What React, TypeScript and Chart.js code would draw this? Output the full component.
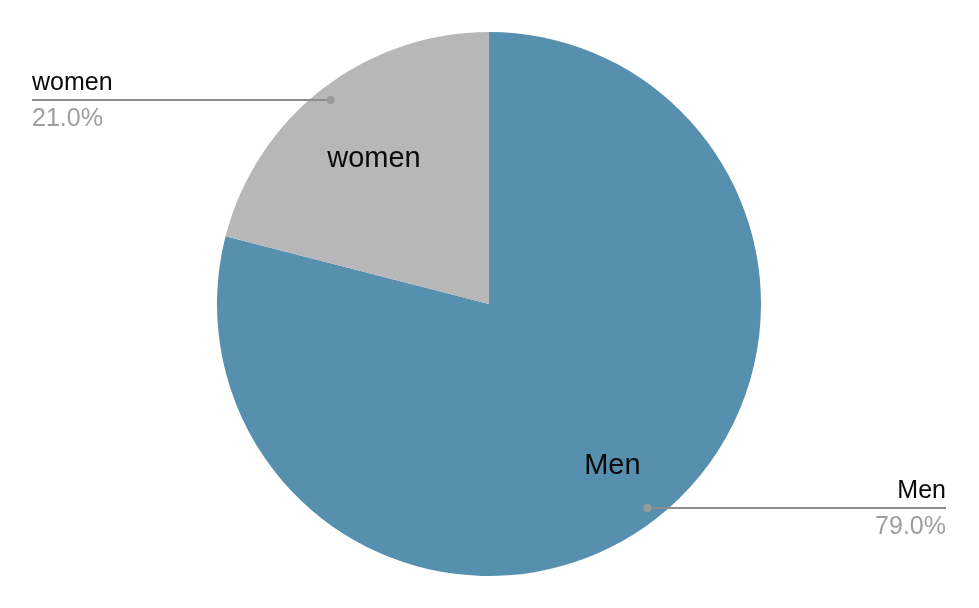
import React, { useEffect, useRef } from "react";
import { Chart, registerables } from "chart.js";

Chart.register(...registerables);

const categories = ["Men", "women"];
const values = [79, 21];
const sliceColors = ["#5790AE", "#B7B7B7"];

const FONT = "'Liberation Sans', Arial, sans-serif";

const labelPlugin = {
  id: "pieLabels",
  afterDraw(chart: any) {
    const ctx = chart.ctx as CanvasRenderingContext2D;
    const meta = chart.getDatasetMeta(0);
    const total = values.reduce((a, b) => a + b, 0);
    const W = chart.width;
    const insideFrac = [0.74, 0.69];
    meta.data.forEach((arc: any, i: number) => {
      const { x, y, startAngle, endAngle, outerRadius } = arc.getProps(
        ["x", "y", "startAngle", "endAngle", "outerRadius"],
        true
      );
      const mid = (startAngle + endAngle) / 2;
      const cos = Math.cos(mid);
      const sin = Math.sin(mid);
      // inside label
      ctx.save();
      ctx.font = `29px ${FONT}`;
      ctx.fillStyle = "#0a0a0a";
      ctx.textAlign = "center";
      ctx.textBaseline = "middle";
      const r1 = outerRadius * insideFrac[i];
      ctx.fillText(categories[i], x + cos * r1, y + sin * r1 + 3);
      // callout
      const dr = outerRadius * 0.95;
      const dx = x + cos * dr;
      const dy = Math.round(y + sin * dr);
      const right = cos > 0;
      const endX = right ? W - 33 : 32;
      ctx.strokeStyle = "#8c8c8c";
      ctx.lineWidth = 2;
      ctx.beginPath();
      ctx.moveTo(dx, dy);
      ctx.lineTo(endX, dy);
      ctx.stroke();
      ctx.fillStyle = "#9a9a9a";
      ctx.beginPath();
      ctx.arc(dx, dy, 4, 0, Math.PI * 2);
      ctx.fill();
      ctx.textAlign = right ? "right" : "left";
      ctx.textBaseline = "alphabetic";
      ctx.font = `25px ${FONT}`;
      ctx.fillStyle = "#0a0a0a";
      ctx.fillText(categories[i], endX, dy - 10);
      ctx.fillStyle = "#9e9e9e";
      ctx.fillText(((values[i] / total) * 100).toFixed(1) + "%", endX, dy + 26);
      ctx.restore();
    });
  },
};

export default function App() {
  const ref = useRef<HTMLCanvasElement>(null);
  useEffect(() => {
    if (!ref.current) return;
    const chart = new Chart(ref.current, {
      type: "pie",
      data: {
        labels: categories,
        datasets: [
          {
            data: values,
            backgroundColor: sliceColors,
            borderWidth: 0,
          },
        ],
      },
      options: {
        responsive: false,
        animation: false,
        layout: { padding: { top: 32, bottom: 32, left: 217, right: 218 } },
        plugins: {
          legend: { display: false },
          tooltip: { enabled: false },
        },
      },
      plugins: [labelPlugin],
    });
    return () => chart.destroy();
  }, []);
  return (
    <div style={{ position: "fixed", left: 0, top: 0, width: 979, height: 608, background: "#fff" }}>
      <canvas ref={ref} width={979} height={608} style={{ width: 979, height: 608 }} />
    </div>
  );
}
